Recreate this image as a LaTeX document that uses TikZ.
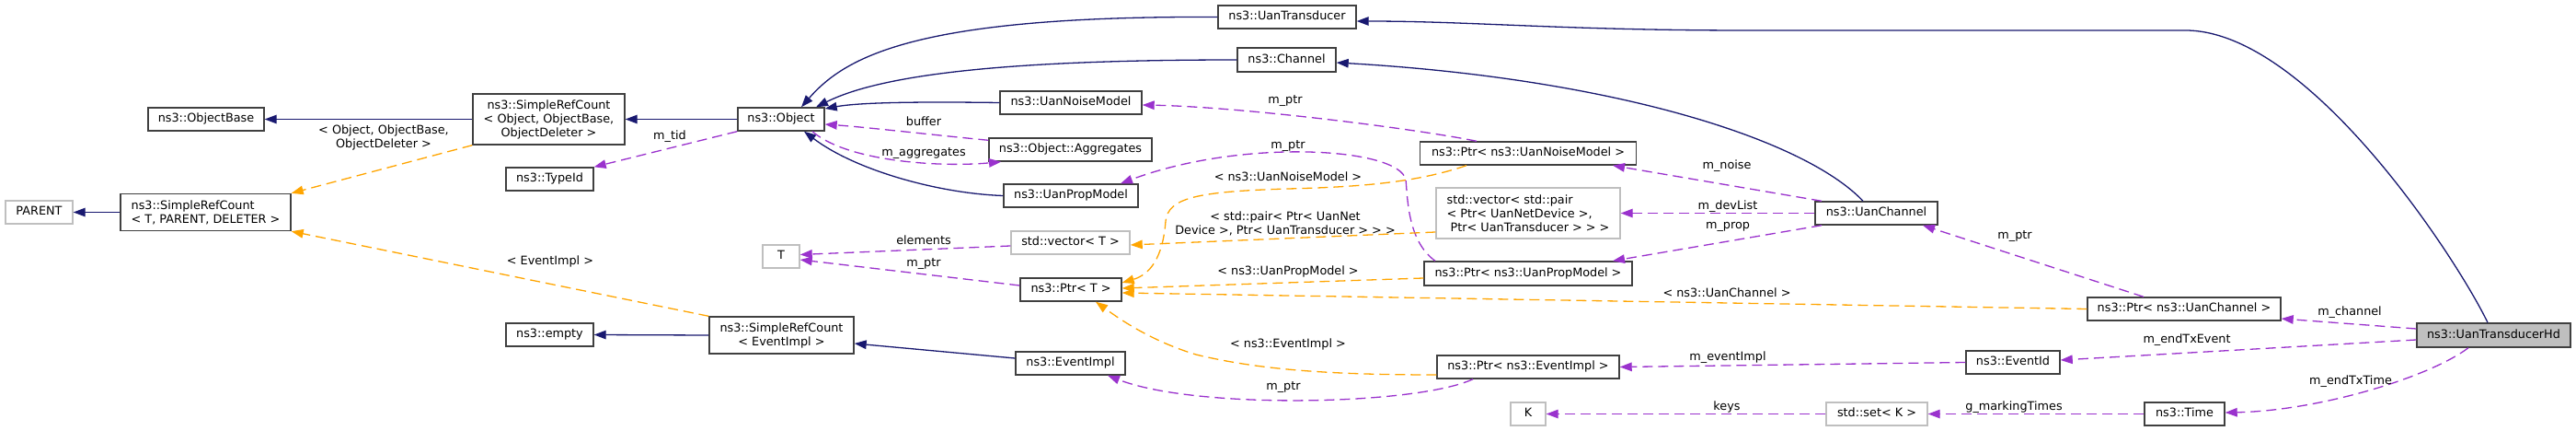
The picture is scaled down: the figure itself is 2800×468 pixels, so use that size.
\documentclass[tikz,border=0pt]{standalone}
\usepackage{fontspec}
\setmainfont{DejaVu Sans}
\usetikzlibrary{arrows.meta}
\definecolor{navyc}{HTML}{191970}
\definecolor{purp}{HTML}{9A32CD}
\definecolor{orng}{HTML}{FFA500}
\definecolor{bord}{HTML}{404040}
\definecolor{gbord}{HTML}{BFBFBF}
\begin{document}
\begin{tikzpicture}[x=1pt,y=-1pt,
  font=\fontsize{12.8}{15}\selectfont,
  sz/.style 2 args={minimum width=#1pt,minimum height=#2pt},
  box/.style={draw=bord, line width=1.4pt, fill=white, inner sep=0pt, text height=9.3pt, text depth=2.6pt},
  mbox/.style={draw=bord, line width=1.4pt, fill=white, inner sep=0pt},
  gbox/.style={box, draw=gbord},
  gmbox/.style={mbox, draw=gbord},
  inh/.style={draw=navyc, line width=1.3pt, -{Triangle[length=13pt,width=9.5pt]}},
  use/.style={draw=purp, line width=1.3pt, dash pattern=on 11pt off 6pt, -{Triangle[length=13pt,width=9.5pt]}},
  tmpl/.style={draw=orng, line width=1.3pt, dash pattern=on 11pt off 6pt, -{Triangle[length=13pt,width=9.5pt]}},
  lbl/.style={inner sep=0pt, text height=9.3pt, text depth=2.6pt},
  mlbl/.style={inner sep=0pt, align=center}
]
\fill[white] (0,0) rectangle (2800,468);
\useasboundingbox (0,0) rectangle (2800,468);

% ---------- nodes ----------
\node[box, sz={126}{25}] (objbase) at (224,129.5) {ns3::ObjectBase};
\node[mbox, sz={165}{55}, align=center] (srcobj) at (596.5,129.5) {ns3::SimpleRefCount\\< Object, ObjectBase,\\ObjectDeleter >};
\node[box, sz={95}{25}] (typeid) at (597.5,194.5) {ns3::TypeId};
\node[gbox, sz={73}{25}] (parent) at (42.5,230.5) {PARENT};
\node[mbox, sz={185}{40}, align=left] (srcT) at (223.5,230.5) {ns3::SimpleRefCount\\< T, PARENT, DELETER >};
\node[box, sz={95}{25}] (empty) at (597.5,363.5) {ns3::empty};
\node[mbox, sz={157}{40}, align=center] (srcev) at (849.5,364) {ns3::SimpleRefCount\\< EventImpl >};
\node[box, sz={94}{25}] (object) at (849,129.5) {ns3::Object};
\node[gbox, sz={40}{25}] (T) at (849,278.5) {T};
\node[box, sz={150}{25}] (uantr) at (1399,18.5) {ns3::UanTransducer};
\node[box, sz={107}{26}] (channel) at (1398.5,65) {ns3::Channel};
\node[box, sz={154}{25}] (noise) at (1164,111.5) {ns3::UanNoiseModel};
\node[box, sz={177}{25}] (aggr) at (1163.5,162.5) {ns3::Object::Aggregates};
\node[box, sz={146}{25}] (prop) at (1164,212.5) {ns3::UanPropModel};
\node[gbox, sz={129}{25}] (vecT) at (1163.5,263.5) {std::vector< T >};
\node[box, sz={110}{25}] (ptrT) at (1164,314.5) {ns3::Ptr< T >};
\node[box, sz={119}{25}] (evimpl) at (1163.5,394.5) {ns3::EventImpl};
\node[box, sz={235}{25}] (ptrnoise) at (1661,166.5) {ns3::Ptr< ns3::UanNoiseModel >};
\node[gmbox, sz={200}{55}, align=left] (vecpair) at (1661,231.5) {std::vector< std::pair\\< Ptr< UanNetDevice >,\\\hspace*{0.32em}Ptr< UanTransducer > > >};
\node[box, sz={226}{26}] (ptrprop) at (1661,297) {ns3::Ptr< ns3::UanPropModel >};
\node[box, sz={198}{25}] (ptrev) at (1661,398.5) {ns3::Ptr< ns3::EventImpl >};
\node[gbox, sz={38}{25}] (K) at (1661,449.5) {K};
\node[box, sz={133}{25}] (uanch) at (2039.5,231.5) {ns3::UanChannel};
\node[gbox, sz={110}{25}] (setK) at (2040,449.5) {std::set< K >};
\node[box, sz={210}{25}] (ptrch) at (2374,335.5) {ns3::Ptr< ns3::UanChannel >};
\node[box, sz={102}{25}] (eventid) at (2188,393.5) {ns3::EventId};
\node[box, sz={87}{25}] (time) at (2374.5,449.5) {ns3::Time};
\node[box, fill={gbord}, sz={167}{26}] (hd) at (2710.5,364) {ns3::UanTransducerHd};

% ---------- inheritance ----------
\draw[inh] (object.west) -- (srcobj.east);
\draw[inh] (srcobj.west) -- (objbase.east);
\draw[inh] (srcT.west) -- (parent.east);
\draw[inh] (srcev.west) -- (empty.east);
\draw[inh] ([yshift=5.5pt]evimpl.west) -- ([yshift=-9pt]srcev.east);
\draw[inh] (uantr.west) .. controls (1000,17) and (920,60) .. ([xshift=22pt]object.north);
\draw[inh] (channel.west) .. controls (1100,65) and (960,80) .. ([xshift=38pt]object.north);
\draw[inh] (noise.west) .. controls (980,110) and (930,112) .. ([yshift=11.5pt]object.east);
\draw[inh] (prop.west) .. controls (1020,210) and (930,185) .. ([xshift=25pt]object.south);
\draw[inh] ([xshift=-14.5pt]uanch.north) .. controls (1960,150) and (1750,85) .. ([yshift=-3pt]channel.east);
\draw[inh] ([xshift=-6.5pt]hd.north) .. controls (2670,280) and (2510,35) .. (2377,33) -- (1900,33) .. controls (1700,33) and (1600,23) .. ([yshift=-4.5pt]uantr.east);

% ---------- usage (purple) ----------
\draw[use] (object.south west) -- (typeid.north east);
\draw[use] ([yshift=-3pt]aggr.north west) .. controls (1000,145) and (940,138) .. ([yshift=-5.5pt]object.east);
\draw[use] ([xshift=34pt]object.south) .. controls (920,175) and (1020,182) .. ([xshift=-75.5pt]aggr.south);
\draw[use] ([yshift=-3.5pt]vecT.west) -- ([yshift=2pt]T.east);
\draw[use] ([yshift=4.5pt]ptrT.west) -- ([yshift=-3.5pt]T.east);
\draw[use] ([xshift=-56pt]ptrnoise.north) .. controls (1540,140) and (1350,116) .. ([yshift=-2.5pt]noise.east);
\draw[use] ([xshift=-101pt]ptrprop.north) .. controls (1530,262) and (1530,215) .. (1528,195) .. controls (1520,160) and (1350,150) .. ([xshift=54pt]prop.north);
\draw[use] ([xshift=-59.5pt]uanch.north) -- ([xshift=92pt]ptrnoise.south);
\draw[use] (uanch.west) -- (vecpair.east);
\draw[use] ([xshift=-59.5pt]uanch.south) -- ([xshift=92pt]ptrprop.north);
\draw[use] ([xshift=-44pt]ptrch.north) -- ([xshift=50.5pt]uanch.south);
\draw[use] ([yshift=7pt]hd.west) -- ([yshift=-10.5pt]ptrch.east);
\draw[use] ([yshift=-5pt]hd.west) -- ([yshift=2.5pt]eventid.east);
\draw[use] ([xshift=-27.5pt]hd.south) .. controls (2640,410) and (2520,446) .. ([yshift=1.5pt]time.east);
\draw[use] (eventid.west) -- (ptrev.east);
\draw[use] ([xshift=-60pt]ptrev.south) .. controls (1540,440) and (1300,445) .. ([xshift=40.5pt]evimpl.south);
\draw[use] (time.west) -- (setK.east);
\draw[use] (setK.west) -- (K.east);

% ---------- template instances (orange) ----------
\draw[tmpl] (srcobj.south west) -- (srcT.north east);
\draw[tmpl] (srcev.north west) -- (srcT.south east);
\draw[tmpl] ([xshift=-67pt]ptrnoise.south) .. controls (1540,198) and (1480,203) .. (1400,205) .. controls (1300,208) and (1270,215) .. (1267,240) .. controls (1264,280) and (1250,298) .. ([yshift=7.5pt]ptrT.east);
\draw[tmpl] ([yshift=-20.5pt]vecpair.west) -- ([yshift=-2.5pt]vecT.east);
\draw[tmpl] ([yshift=-5pt]ptrprop.west) -- ([yshift=1.5pt]ptrT.east);
\draw[tmpl] (ptrch.west) -- ([yshift=-3.5pt]ptrT.east);
\draw[tmpl] ([yshift=-8.5pt]ptrev.west) .. controls (1450,407) and (1370,402) .. (1300,385) .. controls (1250,370) and (1215,345) .. ([xshift=27pt]ptrT.south);

% ---------- labels ----------
\node[mlbl] (l1) at (417,149) {< Object, ObjectBase,\\ObjectDeleter >};
\node[lbl] (l2) at (598,284) {< EventImpl >};
\node[lbl] (l3) at (728,148) {m\_tid};
\node[lbl] (l4) at (1004,133) {buffer};
\node[lbl] (l5) at (1004,166) {m\_aggregates};
\node[lbl] (l6) at (1004,262) {elements};
\node[lbl] (l7) at (1004,286) {m\_ptr};
\node[lbl] (l8) at (1397,109) {m\_ptr};
\node[lbl] (l9) at (1400,158) {m\_ptr};
\node[lbl] (l10) at (1400,193) {< ns3::UanNoiseModel >};
\node[mlbl] (l11) at (1397,243) {< std::pair< Ptr< UanNet\\Device >, Ptr< UanTransducer > > >};
\node[lbl] (l12) at (1400,295) {< ns3::UanPropModel >};
\node[lbl] (l13) at (1400,374) {< ns3::EventImpl >};
\node[lbl] (l14) at (1395,420) {m\_ptr};
\node[lbl] (l15) at (1877,180) {m\_noise};
\node[lbl] (l16) at (1878,224) {m\_devList};
\node[lbl] (l17) at (1878,245) {m\_prop};
\node[lbl] (l18) at (1877,319) {< ns3::UanChannel >};
\node[lbl] (l19) at (1878,388) {m\_eventImpl};
\node[lbl] (l20) at (1877,442) {keys};
\node[lbl] (l21) at (2190,256) {m\_ptr};
\node[lbl] (l22) at (2377,369) {m\_endTxEvent};
\node[lbl] (l23) at (2189,442) {g\_markingTimes};
\node[lbl] (l24) at (2554,339) {m\_channel};
\node[lbl] (l25) at (2555,414) {m\_endTxTime};
\end{tikzpicture}
\end{document}
